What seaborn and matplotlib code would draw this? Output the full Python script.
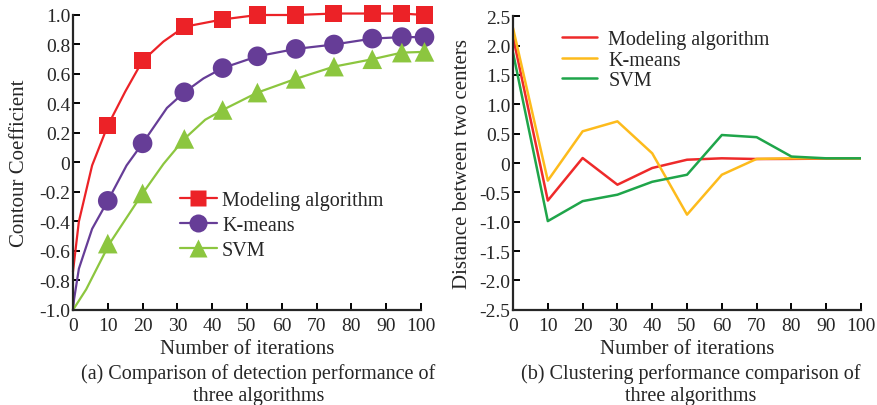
import matplotlib
matplotlib.use("Agg")
import matplotlib.pyplot as plt
import seaborn as sns
import pandas as pd
from matplotlib.lines import Line2D
from matplotlib.ticker import FixedLocator, FuncFormatter

sns.set_style("ticks")
plt.rcParams['font.family'] = ['Liberation Serif', 'DejaVu Serif']
plt.rcParams['axes.unicode_minus'] = False

# ---------- Panel (a) data ----------
iters_a = [10, 20, 32, 43, 53, 64, 75, 86, 94.5, 101]
model_a = [0.25, 0.69, 0.92, 0.97, 1.00, 1.00, 1.01, 1.01, 1.01, 1.00]
kmeans_a = [-0.26, 0.13, 0.476, 0.64, 0.72, 0.77, 0.80, 0.84, 0.85, 0.85]
svm_a = [-0.55, -0.21, 0.16, 0.356, 0.474, 0.567, 0.65, 0.70, 0.745, 0.75]

# curve traces (lines through the markers)
model_curve_x = [0, 1.7, 5.5, 10, 15, 20, 26, 32, 43, 53, 64, 75, 86, 94.5, 101]
model_curve_y = [-0.74, -0.40, -0.02, 0.25, 0.48, 0.69, 0.82, 0.92, 0.97, 1.00, 1.00, 1.01, 1.01, 1.01, 1.00]
kmeans_curve_x = [0, 0.3, 1.7, 5.5, 10, 15.4, 20, 27, 32, 37.5, 43, 53, 64, 75, 86, 94.5, 101]
kmeans_curve_y = [-1.0, -0.93, -0.72, -0.45, -0.26, -0.02, 0.13, 0.37, 0.476, 0.57, 0.64, 0.72, 0.77, 0.80, 0.84, 0.85, 0.85]
svm_curve_x = [0, 3.8, 10.5, 20, 26, 32, 38, 43, 53, 64, 75, 86, 94.5, 101]
svm_curve_y = [-1.0, -0.86, -0.55, -0.21, -0.01, 0.16, 0.29, 0.356, 0.474, 0.567, 0.65, 0.70, 0.745, 0.75]

# ---------- Panel (b) data ----------
iters_b = [0, 10, 20, 30, 40, 50, 60, 70, 80, 90, 100]
model_b = [2.15, -0.64, 0.085, -0.37, -0.085, 0.056, 0.08, 0.068, 0.07, 0.075, 0.08]
kmeans_b = [2.30, -0.30, 0.54, 0.71, 0.165, -0.88, -0.20, 0.07, 0.08, 0.08, 0.08]
svm_b = [1.88, -0.99, -0.65, -0.54, -0.32, -0.20, 0.477, 0.44, 0.11, 0.08, 0.08]

labels = ["Modeling algorithm", "K-means", "SVM"]

RED_A, PUR_A, GRN_A = "#EC2227", "#663D97", "#8CC63F"
RED_B, YEL_B, GRN_B = "#EE2A2A", "#FDBB1C", "#1FA54A"

FS_TICK = 14
FS_LAB = 15
FS_LEG = 14.5
FS_CAP = 14.5

fig = plt.figure(figsize=(8.78, 4.06), dpi=100)
ax1 = fig.add_axes([0.0831, 0.234, 0.3964, 0.7266])
ax2 = fig.add_axes([0.5843, 0.2347, 0.3964, 0.7227])

# ---- panel a ----
curves = [(model_curve_x, model_curve_y, RED_A), (kmeans_curve_x, kmeans_curve_y, PUR_A),
          (svm_curve_x, svm_curve_y, GRN_A)]
for cx, cy, c in curves:
    sns.lineplot(x=cx, y=cy, ax=ax1, color=c, lw=1.6, sort=False, clip_on=False)
marks = [(model_a, RED_A, "s", 150), (kmeans_a, PUR_A, "o", 200), (svm_a, GRN_A, "^", 200)]
for vals, c, m, s in marks:
    sns.scatterplot(x=iters_a, y=vals, ax=ax1, color=c, marker=m, s=s, edgecolor="none",
                    clip_on=False, zorder=5)

ax1.set_xlim(0, 100)
ax1.set_ylim(-1.0, 1.0)
ax1.xaxis.set_major_locator(FixedLocator(range(0, 101, 10)))
ax1.yaxis.set_major_locator(FixedLocator([-1.0 + 0.2 * i for i in range(11)]))
ax1.yaxis.set_major_formatter(FuncFormatter(lambda v, p: "0" if abs(v) < 1e-9 else f"{v:.1f}"))
ax1.set_xlabel("Number of iterations", fontsize=FS_LAB, labelpad=4)
ax1.set_ylabel("Contour Coefficient", fontsize=FS_LAB, labelpad=7)

h1 = [Line2D([], [], color=RED_A, lw=1.6, marker="s", ms=11, mec="none"),
      Line2D([], [], color=PUR_A, lw=1.6, marker="o", ms=13, mec="none"),
      Line2D([], [], color=GRN_A, lw=1.6, marker="^", ms=13, mec="none")]
ax1.legend(h1, labels, loc="upper left", bbox_to_anchor=(0.307, 0.403), frameon=False,
           fontsize=FS_LEG, handlelength=1.85, handletextpad=0.25, labelspacing=0.3,
           borderaxespad=0, borderpad=0)

# ---- panel b ----
for vals, c in [(model_b, RED_B), (kmeans_b, YEL_B), (svm_b, GRN_B)]:
    sns.lineplot(x=iters_b, y=vals, ax=ax2, color=c, lw=1.8)
ax2.set_xlim(0, 100)
ax2.set_ylim(-2.5, 2.5)
ax2.xaxis.set_major_locator(FixedLocator(range(0, 101, 10)))
ax2.yaxis.set_major_locator(FixedLocator([-2.5 + 0.5 * i for i in range(11)]))
ax2.yaxis.set_major_formatter(FuncFormatter(lambda v, p: "0" if abs(v) < 1e-9 else f"{v:.1f}"))
ax2.set_xlabel("Number of iterations", fontsize=FS_LAB, labelpad=4)
ax2.set_ylabel("Distance between two centers", fontsize=FS_LAB, labelpad=5)
h2 = [Line2D([], [], color=c, lw=1.8) for c in (RED_B, YEL_B, GRN_B)]
ax2.legend(h2, labels, loc="upper left", bbox_to_anchor=(0.141, 0.953), frameon=False,
           fontsize=FS_LEG, handlelength=1.75, handletextpad=0.55, labelspacing=0.075,
           borderaxespad=0, borderpad=0)

for ax in (ax1, ax2):
    sns.despine(ax=ax)
    ax.spines["left"].set_linewidth(1.6)
    ax.spines["bottom"].set_linewidth(1.6)
    ax.tick_params(direction="in", length=5, width=1.4, labelsize=FS_TICK, color="black")
    ax.tick_params(axis="x", pad=5)
    ax.tick_params(axis="y", pad=2)

fig.text(0.2942, 0.052, "(a) Comparison of detection performance of\nthree algorithms",
         ha="center", va="center", fontsize=FS_CAP, linespacing=1.22)
fig.text(0.787, 0.052, "(b) Clustering performance comparison of\nthree algorithms",
         ha="center", va="center", fontsize=FS_CAP, linespacing=1.22)

fig.savefig("out.png", dpi=100)
